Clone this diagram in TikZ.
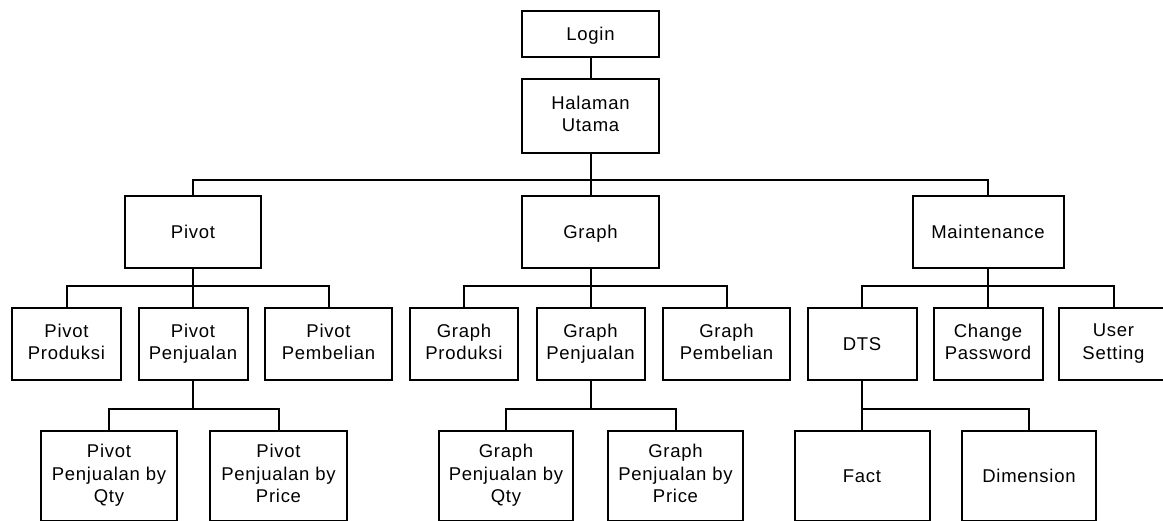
\documentclass[tikz,border=0pt]{standalone}
\usepackage{fontspec}
\setmainfont{Liberation Sans}[LetterSpace=4]
\newcommand\boxstrut{\rule[-4.5pt]{0pt}{22.5pt}}

\begin{document}
\begin{tikzpicture}[
        x=1pt, y=-1pt, line width=2pt,
        every node/.style={draw, align=center, outer sep=0pt, inner sep=1pt, minimum height=72pt,
                            execute at begin node=\boxstrut, execute at end node=\boxstrut,
                            font=\fontsize{18.5pt}{22.5pt}\selectfont},
        leaf/.style={minimum height=90pt},
        ]
    \useasboundingbox (0,0) rectangle (1163,520);
    \clip (0,0) rectangle (1163,520);
    % top
    \node[minimum width=137pt, minimum height=46pt] (login) at (590.5,34) {Login};
    \node[minimum width=137pt, minimum height=74pt] (utama) at (590.5,116) {Halaman\\Utama};
    % menu
    \node[minimum width=136pt] (pivot) at (193,232) {Pivot};
    \node[minimum width=137pt] (graph) at (590.5,232) {Graph};
    \node[minimum width=151pt] (maint) at (988,232) {Maintenance};
    % sub menu
    \node[minimum width=109pt] (pprod) at (66.5,344) {Pivot\\Produksi};
    \node[minimum width=109pt] (ppenj) at (193,344) {Pivot\\Penjualan};
    \node[minimum width=127pt] (ppemb) at (328.5,344) {Pivot\\Pembelian};
    \node[minimum width=108pt] (gprod) at (464,344) {Graph\\Produksi};
    \node[minimum width=108pt] (gpenj) at (590.5,344) {Graph\\Penjualan};
    \node[minimum width=127pt] (gpemb) at (726.5,344) {Graph\\Pembelian};
    \node[minimum width=109pt] (dts) at (862,344) {DTS};
    \node[minimum width=109pt] (chpw) at (988,344) {Change\\Password};
    \node[minimum width=109pt] (user) at (1113.5,344) {User\\Setting};
    % leaves
    \node[leaf, minimum width=136pt] (pqty) at (109,476) {Pivot\\Penjualan by\\Qty};
    \node[leaf, minimum width=137pt] (pprice) at (278.5,476) {Pivot\\Penjualan by\\Price};
    \node[leaf, minimum width=134pt] (gqty) at (506,476) {Graph\\Penjualan by\\Qty};
    \node[leaf, minimum width=135pt] (gprice) at (675.5,476) {Graph\\Penjualan by\\Price};
    \node[leaf, minimum width=135pt] (fact) at (862,476) {Fact};
    \node[leaf, minimum width=134pt] (dim) at (1029,476) {Dimension};

    \draw (login) -- (utama);
    \draw (utama.south) -- ++(0,27) -| (pivot.north);
    \draw (utama.south) -- ++(0,27) -| (graph.north);
    \draw (utama.south) -- ++(0,27) -| (maint.north);
    \draw (pivot.south) -- ++(0,18) -| (pprod.north);
    \draw (pivot.south) -- ++(0,18) -| (ppenj.north);
    \draw (pivot.south) -- ++(0,18) -| (ppemb.north);
    \draw (graph.south) -- ++(0,18) -| (gprod.north);
    \draw (graph.south) -- ++(0,18) -| (gpenj.north);
    \draw (graph.south) -- ++(0,18) -| (gpemb.north);
    \draw (maint.south) -- ++(0,18) -| (dts.north);
    \draw (maint.south) -- ++(0,18) -| (chpw.north);
    \draw (maint.south) -- ++(0,18) -| (user.north);
    \draw (ppenj.south) -- ++(0,29) -| (pqty.north);
    \draw (ppenj.south) -- ++(0,29) -| (pprice.north);
    \draw (gpenj.south) -- ++(0,29) -| (gqty.north);
    \draw (gpenj.south) -- ++(0,29) -| (gprice.north);
    \draw (dts.south) -- ++(0,29) -| (fact.north);
    \draw (dts.south) -- ++(0,29) -| (dim.north);
\end{tikzpicture}
\end{document}
